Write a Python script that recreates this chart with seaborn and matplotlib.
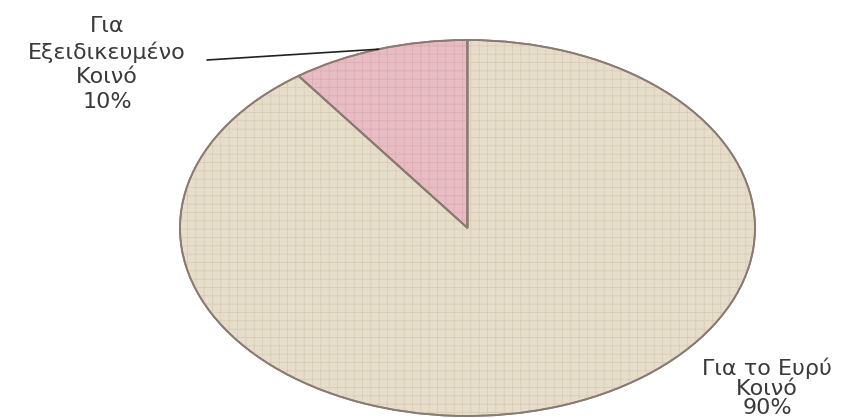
import matplotlib.pyplot as plt
import numpy as np
import seaborn as sns

# data
labels = ["Για\nΕξειδικευμένο\nΚοινό", "Για το Ευρύ\nΚοινό"]
shares = [10, 90]
colors = ["#e8bcc3", "#e6ddca"]
texture = ["#dcaab2", "#d6cbb4"]

sns.set_theme(style="white")
plt.rcParams['font.family'] = ['DejaVu Sans']
plt.rcParams['hatch.linewidth'] = 0.5

W, H = 849, 418
fig = plt.figure(figsize=(W / 100, H / 100), dpi=100)
fig.patch.set_facecolor("white")
ax = fig.add_axes([180 / W, 2 / H, 575 / W, 376 / H])

wedges, _ = ax.pie(shares, colors=colors, startangle=90, counterclock=True,
                   wedgeprops=dict(edgecolor="#8a7a72", linewidth=1.3))
# faint linen texture on top
tex, _ = ax.pie(shares, colors=["none", "none"], startangle=90, counterclock=True,
                wedgeprops=dict(linewidth=0))
for w, c in zip(tex, texture):
    w.set_hatch("++")
    w.set_edgecolor(c)
    w.set_linewidth(0)
# redraw outlines above texture
out, _ = ax.pie(shares, colors=["none", "none"], startangle=90, counterclock=True,
                wedgeprops=dict(edgecolor="#8a7a72", linewidth=1.3, fill=False))
ax.set_aspect("auto")
ax.set_xlim(-1.0, 1.0)
ax.set_ylim(-1.0, 1.0)
ax.axis("off")

txt_color = "#3a3a3a"
# label for small slice with leader line
w0 = wedges[0]
mid = np.deg2rad((w0.theta1 + w0.theta2) / 2)
ax.annotate("", xy=(np.cos(mid), np.sin(mid)), xycoords="data",
            xytext=(207, H - 60), textcoords="figure pixels",
            arrowprops=dict(arrowstyle="-", color="#222222", lw=1.2,
                            shrinkA=0, shrinkB=0))
fig.text(107 / W, 1 - 64 / H, f"{labels[0]}\n{shares[0]}%", ha="center", va="center",
         fontsize=16, color=txt_color, linespacing=1.3)
fig.text(767 / W, 1 - 388 / H, f"{labels[1]}\n{shares[1]}%", ha="center", va="center",
         fontsize=16, color=txt_color, linespacing=0.98)

fig.savefig("out.png", dpi=100)
